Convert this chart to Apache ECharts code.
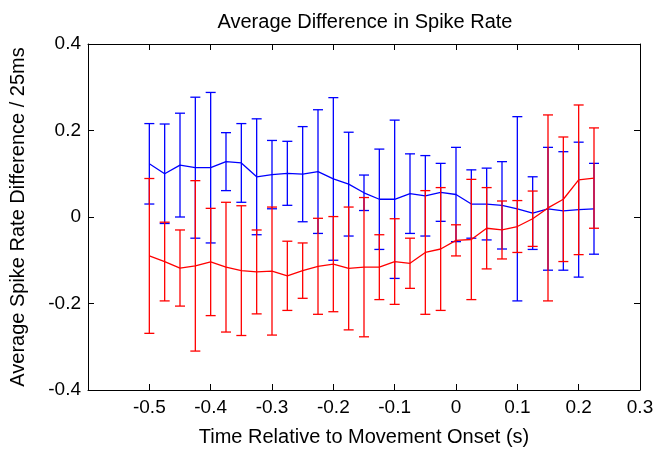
<!DOCTYPE html>
<html>
<head>
<meta charset="utf-8">
<script src="https://cdn.jsdelivr.net/npm/echarts@6/dist/echarts.min.js"></script>
<style>
html,body{margin:0;padding:0;background:#fff;}
#chart{width:657px;height:454px;}
</style>
</head>
<body>
<div id="chart"></div>
<script>
// Time bins (s)
const timePoints = [-0.5, -0.475, -0.45, -0.425, -0.4, -0.375, -0.35, -0.325, -0.3, -0.275,
  -0.25, -0.225, -0.2, -0.175, -0.15, -0.125, -0.1, -0.075, -0.05, -0.025,
  0, 0.025, 0.05, 0.075, 0.1, 0.125, 0.15, 0.175, 0.2, 0.225];

// Blue series: mean and error half-width
const blueMean = [0.123, 0.100, 0.120, 0.114, 0.114, 0.128, 0.125, 0.093, 0.098, 0.101,
  0.099, 0.105, 0.088, 0.076, 0.056, 0.041, 0.041, 0.054, 0.049, 0.057,
  0.052, 0.030, 0.030, 0.027, 0.019, 0.009, 0.019, 0.014, 0.017, 0.019];
const blueErr = [0.093, 0.115, 0.120, 0.163, 0.174, 0.067, 0.091, 0.134, 0.079, 0.074,
  0.110, 0.143, 0.188, 0.120, 0.041, 0.116, 0.183, 0.092, 0.093, 0.067,
  0.109, 0.079, 0.083, 0.101, 0.213, 0.084, 0.142, 0.137, 0.156, 0.105];

// Red series: mean and error half-width
const redMean = [-0.090, -0.103, -0.118, -0.113, -0.104, -0.116, -0.124, -0.127, -0.125, -0.136,
  -0.124, -0.114, -0.109, -0.119, -0.116, -0.116, -0.103, -0.107, -0.082, -0.074,
  -0.054, -0.052, -0.026, -0.030, -0.022, -0.004, 0.021, 0.041, 0.086, 0.090];
const redErr = [0.179, 0.091, 0.088, 0.197, 0.124, 0.150, 0.150, 0.097, 0.148, 0.080,
  0.064, 0.111, 0.110, 0.142, 0.161, 0.075, 0.099, 0.058, 0.143, 0.142,
  0.036, 0.139, 0.094, 0.067, 0.060, 0.064, 0.215, 0.144, 0.173, 0.116];

const titleText = 'Average Difference in Spike Rate';
const xLabelText = 'Time Relative to Movement Onset (s)';
const yLabelText = 'Average Spike Rate Difference / 25ms';

const FONT = "'Liberation Sans', Arial, Helvetica, sans-serif";
const BLUE = '#0000ff';
const RED = '#ff0000';

function lineData(means) {
  return timePoints.map((t, i) => [t, means[i]]);
}
function barData(means, errs) {
  return timePoints.map((t, i) => [t, means[i] - errs[i], means[i] + errs[i]]);
}
function makeErrorRender(color) {
  return function (params, api) {
    const x = api.value(0);
    const pLo = api.coord([x, api.value(1)]);
    const pHi = api.coord([x, api.value(2)]);
    const w = 5;
    const style = { stroke: color, lineWidth: 1.3, fill: null };
    return {
      type: 'group',
      children: [
        { type: 'line', shape: { x1: pLo[0], y1: pLo[1], x2: pHi[0], y2: pHi[1] }, style: style },
        { type: 'line', shape: { x1: pHi[0] - w, y1: pHi[1], x2: pHi[0] + w, y2: pHi[1] }, style: style },
        { type: 'line', shape: { x1: pLo[0] - w, y1: pLo[1], x2: pLo[0] + w, y2: pLo[1] }, style: style }
      ]
    };
  };
}

function fmt(v) {
  const r = Math.round(v * 10) / 10;
  return r === 0 ? '0' : String(r);
}

const axisLineStyle = { color: '#000', width: 1 };

const chart = echarts.init(document.getElementById('chart'), null, { renderer: 'canvas' });
chart.setOption({
  animation: false,
  backgroundColor: '#fff',
  title: {
    text: titleText,
    left: 360,
    top: 7,
    textAlign: 'center',
    textStyle: { fontFamily: FONT, fontSize: 20, fontWeight: 'normal', color: '#000' }
  },
  grid: { left: 84, right: 17, top: 44, bottom: 64, containLabel: false },
  xAxis: [
    {
      type: 'value', position: 'bottom', min: -0.6, max: 0.3, interval: 0.1,
      name: xLabelText, nameLocation: 'middle', nameGap: 37,
      nameTextStyle: { fontFamily: FONT, fontSize: 20, color: '#000' },
      axisLine: { show: true, onZero: false, lineStyle: axisLineStyle },
      axisTick: { show: true, inside: true, length: 6, lineStyle: axisLineStyle },
      axisLabel: {
        fontFamily: FONT, fontSize: 19, color: '#000', margin: 8,
        formatter: function (v) { return v < -0.55 ? '' : fmt(v); }
      },
      splitLine: { show: false }
    },
    {
      type: 'value', position: 'top', min: -0.6, max: 0.3, interval: 0.1,
      axisLine: { show: true, onZero: false, lineStyle: axisLineStyle },
      axisTick: { show: true, inside: true, length: 6, lineStyle: axisLineStyle },
      axisLabel: { show: false },
      splitLine: { show: false }
    }
  ],
  yAxis: [
    {
      type: 'value', position: 'left', min: -0.4, max: 0.4, interval: 0.2,
      name: yLabelText, nameLocation: 'middle', nameGap: 60, nameRotate: 90,
      nameTextStyle: { fontFamily: FONT, fontSize: 20, color: '#000' },
      axisLine: { show: true, onZero: false, lineStyle: axisLineStyle },
      axisTick: { show: true, inside: true, length: 6, lineStyle: axisLineStyle },
      axisLabel: { fontFamily: FONT, fontSize: 19, color: '#000', margin: 7, formatter: fmt },
      splitLine: { show: false }
    },
    {
      type: 'value', position: 'right', min: -0.4, max: 0.4, interval: 0.2,
      axisLine: { show: true, onZero: false, lineStyle: axisLineStyle },
      axisTick: { show: true, inside: true, length: 6, lineStyle: axisLineStyle },
      axisLabel: { show: false },
      splitLine: { show: false }
    }
  ],
  series: [
    {
      type: 'line', data: lineData(blueMean), showSymbol: false, symbol: 'none',
      lineStyle: { color: BLUE, width: 1.3 }, itemStyle: { color: BLUE }, z: 2
    },
    {
      type: 'custom', data: barData(blueMean, blueErr), renderItem: makeErrorRender(BLUE),
      encode: { x: 0, y: [1, 2] }, z: 2
    },
    {
      type: 'line', data: lineData(redMean), showSymbol: false, symbol: 'none',
      lineStyle: { color: RED, width: 1.3 }, itemStyle: { color: RED }, z: 3
    },
    {
      type: 'custom', data: barData(redMean, redErr), renderItem: makeErrorRender(RED),
      encode: { x: 0, y: [1, 2] }, z: 3
    }
  ]
});
</script>
</body>
</html>
